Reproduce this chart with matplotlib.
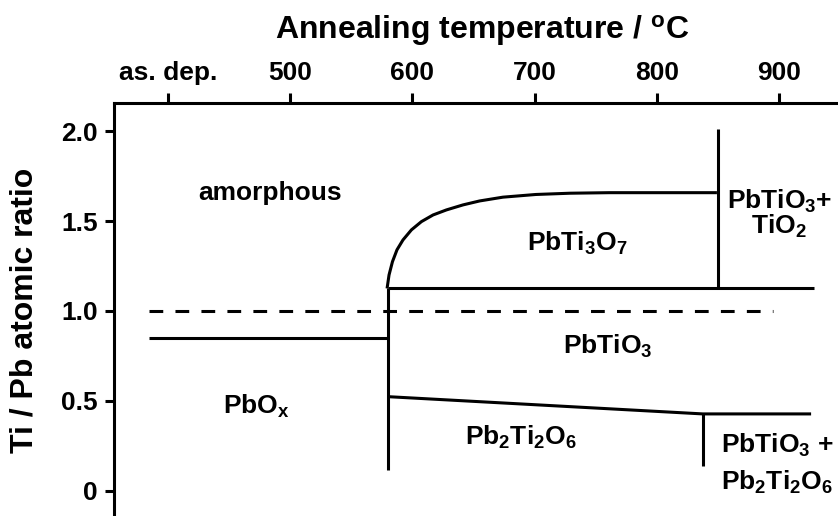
import matplotlib
matplotlib.use('Agg')
import matplotlib.pyplot as plt
import numpy as np

plt.rcParams['font.family'] = ['Liberation Sans', 'DejaVu Sans']
plt.rcParams['font.weight'] = 'bold'
plt.rcParams['mathtext.fontset'] = 'custom'
plt.rcParams['mathtext.rm'] = 'Liberation Sans:bold'
plt.rcParams['mathtext.it'] = 'Liberation Sans:bold'
plt.rcParams['mathtext.bf'] = 'Liberation Sans:bold'
plt.rcParams['mathtext.default'] = 'rm'

# tick positions (as. dep. drawn at 400)
xticks = [400, 500, 600, 700, 800, 900]
xticklabels = ['as. dep.', '500', '600', '700', '800', '900']
yticks = [0, 0.5, 1.0, 1.5, 2.0]
yticklabels = ['0', '0.5', '1.0', '1.5', '2.0']

# phase boundaries
stoich_T = [385, 895]          # dashed line Ti/Pb = 1
stoich_r = [1.0, 1.0]
pbo_T = [385, 580]             # as-deposited film composition
pbo_r = [0.85, 0.85]
cryst_T = [580, 580]           # crystallisation onset
cryst_r = [0.115, 1.125]
upper_T = [580, 928]
upper_r = [1.125, 1.125]
curve_T = [579.3, 580.9, 583.7, 587.4, 592.3, 599.2, 607.4, 616.9, 627.8,
           641.4, 655, 674, 701, 729, 761, 849]
curve_r = [1.125, 1.2, 1.274, 1.34, 1.395, 1.451, 1.497, 1.534, 1.562,
           1.59, 1.612, 1.633, 1.648, 1.655, 1.658, 1.658]
tio2_T = [850, 850]
tio2_r = [1.125, 2.015]
lower_T = [580, 837.5, 926]
lower_r = [0.523, 0.427, 0.427]
pb2_T = [837.5, 837.5]
pb2_r = [0.137, 0.427]

fig = plt.figure(figsize=(8.38, 5.16), dpi=100)
ax = fig.add_axes([0.136, 0.0, 0.864, 0.8004])

lw = 2.2
ax.plot(stoich_T, stoich_r, 'k', lw=lw, dashes=(4.5, 4))
for T, r in [(pbo_T, pbo_r), (cryst_T, cryst_r), (upper_T, upper_r),
             (curve_T, curve_r), (tio2_T, tio2_r), (lower_T, lower_r),
             (pb2_T, pb2_r)]:
    ax.plot(T, r, 'k', lw=lw, solid_capstyle='butt', solid_joinstyle='round')

ax.set_xlim(356, 948)
ax.set_ylim(-0.141, 2.157)

ax.xaxis.tick_top()
ax.set_xticks(xticks)
ax.set_xticklabels(xticklabels)
ax.set_yticks(yticks)
ax.set_yticklabels(yticklabels)
ax.tick_params(axis='x', length=7, width=lw, pad=6, labelsize=19)
ax.tick_params(axis='y', length=6.5, width=lw, pad=5, labelsize=19)
for lab in ax.get_xticklabels() + ax.get_yticklabels():
    lab.set_fontweight('bold')

ax.spines['right'].set_visible(False)
ax.spines['bottom'].set_visible(False)
ax.spines['left'].set_linewidth(lw)
ax.spines['top'].set_linewidth(lw)

fs = 19
kw = dict(ha='center', va='baseline', fontsize=fs, fontweight='bold')
ax.text(484, 1.617, 'amorphous', **kw)
ax.text(472, 0.43, 'PbO$_x$', **kw)
ax.text(735, 1.335, 'PbTi$_3$O$_7$', **kw)
ax.text(760, 0.764, 'PbTiO$_3$', **kw)
ax.text(689, 0.254, 'Pb$_2$Ti$_2$O$_6$', **kw)
ax.text(900, 1.571, 'PbTiO$_3$+', **kw)
ax.text(900, 1.427, 'TiO$_2$', **kw)
ax.text(898, 0.208, 'PbTiO$_3$ +', **kw)
ax.text(898, 0.004, 'Pb$_2$Ti$_2$O$_6$', **kw)

fig.text(482 / 838, 1 - 38.5 / 516, 'Annealing temperature / $^\\mathrm{o}$C',
         ha='center', va='baseline', fontsize=23, fontweight='bold')
fig.text(25 / 838, 1 - 310 / 516, 'Ti / Pb atomic ratio', rotation=90,
         ha='center', va='center', fontsize=23, fontweight='bold')

fig.savefig('out.png', dpi=100)
